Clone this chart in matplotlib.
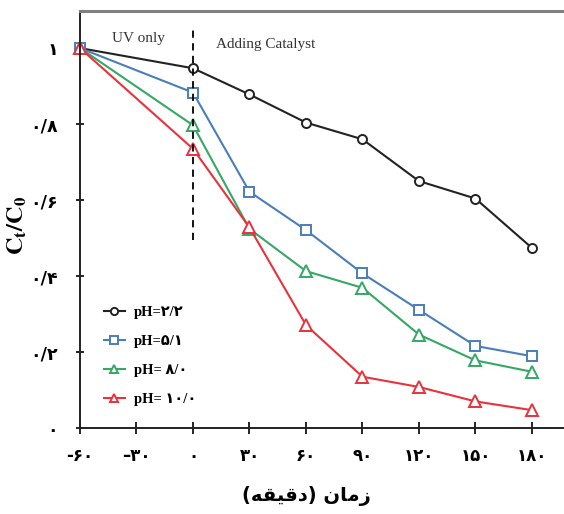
import matplotlib
matplotlib.use('Agg')
import matplotlib.pyplot as plt

# ---- data ----
time_min = [-60, 0, 30, 60, 90, 120, 150, 180]
series_labels = ['pH=۲/۲', 'pH=۵/۱', 'pH= ۸/۰', 'pH= ۱۰/۰']
c_ph22 = [1.0, 0.947, 0.878, 0.804, 0.760, 0.650, 0.604, 0.474]
c_ph51 = [1.0, 0.883, 0.622, 0.521, 0.407, 0.311, 0.216, 0.189]
c_ph80 = [1.0, 0.797, 0.524, 0.413, 0.369, 0.246, 0.178, 0.148]
c_ph100 = [1.0, 0.735, 0.528, 0.271, 0.135, 0.108, 0.070, 0.047]
x_ticks = [-60, -30, 0, 30, 60, 90, 120, 150, 180]
x_ticklabels = ['-۶۰', '–۳۰', '۰', '۳۰', '۶۰', '۹۰', '۱۲۰', '۱۵۰', '۱۸۰']
y_ticks = [0, 0.2, 0.4, 0.6, 0.8, 1.0]
y_ticklabels = ['۰', '۰/۲', '۰/۴', '۰/۶', '۰/۸', '۱']
catalyst_time = 0

# "زمان (دقیقه)" in visual order with presentation forms
xlabel_text = '(' + '\uFEEA\uFED8\uFEF4\uFED7\uFEA9' + ') ' + '\uFEE5\uFE8E\uFEE3\uFEAF'

plt.rcParams['mathtext.fontset'] = 'stix'

fig = plt.figure(figsize=(5.64, 5.14), dpi=100)
W, H = 564, 514
ax = fig.add_axes([80 / W, 86 / H, 486 / W, 417.5 / H])

styles = [
    dict(color='#222222', marker='o', ms=6.5),
    dict(color='#4a7ebb', marker='s', ms=7.5),
    dict(color='#35a865', marker='^', ms=8),
    dict(color='#e8323c', marker='^', ms=8),
]
for vals, lab, st in zip([c_ph22, c_ph51, c_ph80, c_ph100], series_labels, styles):
    ax.plot(time_min, vals, color=st['color'], marker=st['marker'], ms=st['ms'],
            mfc='white', mec=st['color'], mew=1.4, lw=1.5, label=lab, clip_on=False)

ax.vlines(catalyst_time, 0.495, 1.055, colors='black', linestyles=(0, (4, 3)), lw=1.3)

ax.set_xlim(-60, 198.1)
ax.set_ylim(0, 1.099)
ax.set_xticks(x_ticks)
ax.set_xticklabels(x_ticklabels, fontsize=12, fontweight='bold', family='DejaVu Sans')
ax.set_yticks(y_ticks)
ax.set_yticklabels(y_ticklabels, fontsize=12.5, fontweight='bold', family='DejaVu Sans')
ax.tick_params(axis='x', direction='inout', length=8, width=1.2, pad=10)
ax.tick_params(axis='y', direction='inout', length=6, width=1.2, pad=13)

for s in ['left', 'bottom']:
    ax.spines[s].set_color('#222222')
    ax.spines[s].set_linewidth(1.4)
ax.spines['top'].set_color('#808080')
ax.spines['top'].set_linewidth(2.2)
ax.spines['right'].set_visible(False)

ax.text(-29, 1.026, 'UV only', family='Liberation Serif', fontsize=11,
        color='#333333', ha='center', va='center')
ax.text(12, 1.01, 'Adding Catalyst', family='Liberation Serif', fontsize=11,
        color='#333333', ha='left', va='center')

fig.text(17 / W, 1 - 225 / H, r'$\mathbf{C_t/C_0}$', rotation=90, fontsize=17.5,
         ha='center', va='center')
fig.text(306 / W, 1 - 496 / H, xlabel_text, fontsize=14, fontweight='bold',
         family='DejaVu Sans', ha='center', va='center')

leg = ax.legend(loc='upper left', bbox_to_anchor=(0.022, 0.323), frameon=False,
                handlelength=1.45, handletextpad=0.6, labelspacing=1.08, markerscale=0.8,
                prop={'family': ['Liberation Serif', 'DejaVu Sans'], 'weight': 'bold', 'size': 10.5})

fig.savefig('out.png', dpi=100)
